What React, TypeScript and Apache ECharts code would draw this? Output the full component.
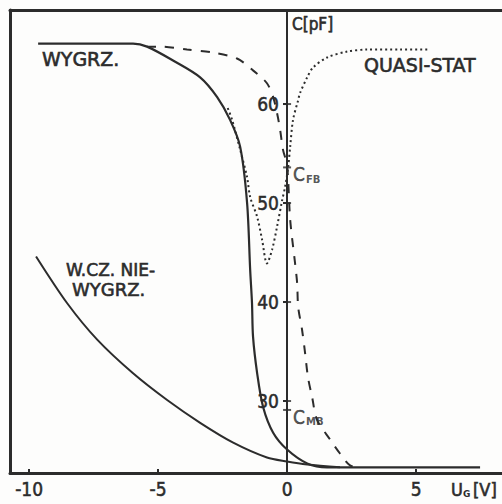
import React, { useEffect, useRef } from "react";
import * as echarts from "echarts";

// x: gate voltage U_G [V], y: capacitance C [pF]
const annealedHfV = [-9.65, -5.97, -5.43, -4.42, -3.37, -2.71, -2.21, -1.82, -1.55, -1.43, -1.36, -1.32, -1.16, -0.93, -0.54, 0, 0.78, 1.55, 7.48];
const annealedHfC = [66.1, 66.1, 65.8, 64.4, 62.7, 60.7, 58.4, 55.7, 50.0, 43.2, 39.9, 36.5, 32.8, 29.4, 26.8, 25.1, 23.7, 23.3, 23.3];

const dashedV = [-5.43, -4.92, -3.88, -2.87, -1.94, -1.32, -0.78, -0.54, -0.39, -0.27, -0.16, 0.0, 0.12, 0.31, 0.39, 0.43, 0.58, 0.7, 0.81, 0.97, 1.16, 1.67, 2.05, 2.44, 2.83];
const dashedC = [65.8, 65.8, 65.5, 65.2, 64.6, 63.4, 62.1, 60.7, 59.1, 57.4, 55.4, 53.8, 48.3, 43.9, 41.9, 39.5, 37.2, 34.8, 32.4, 30.4, 28.1, 26.1, 24.7, 23.5, 23.3];

const quasiV = [-2.3, -2.13, -1.82, -1.55, -1.43, -1.16, -0.97, -0.78, -0.58, -0.39, -0.19, -0.08, 0.04, 0.12, 0.23, 0.43, 0.5, 0.78, 1.01, 1.55, 2.33, 3.1, 4.38, 5.54];
const quasiC = [59.6, 58.4, 55.4, 52.6, 50.6, 48.6, 46.3, 43.9, 45.3, 47.6, 50.3, 51.6, 53.6, 55.7, 58.4, 60.4, 61.1, 62.7, 63.7, 64.7, 65.3, 65.5, 65.5, 65.5];

const unannealedV = [-9.73, -8.53, -7.36, -5.97, -4.65, -3.37, -2.09, -0.78, 0, 0.78, 2.05];
const unannealedC = [44.6, 39.9, 36.2, 32.8, 30.1, 27.8, 25.8, 24.3, 23.9, 23.6, 23.3];

const xTickValues = [-10, -5, 0, 5];
const yTickValues = [30, 40, 50, 60];
const markNames = ["FB", "MB"];
const markValues = [53.6, 29.1];

const INK = "#2c2c2c";
const FONT = "'DejaVu Sans', sans-serif";
const NUMFONT = "'DejaVu Sans Condensed', 'DejaVu Sans', sans-serif";

const zip = (xs: number[], ys: number[]) => xs.map((x, i) => [x, ys[i]]);

export default function App() {
  const ref = useRef<HTMLDivElement>(null);
  useEffect(() => {
    if (!ref.current) return;
    const chart = echarts.init(ref.current, null, { renderer: "svg" });
    const text = (t: string, x: number, y: number, size = 19, font = FONT) => ({
      type: "text",
      x,
      y,
      style: {
        text: t,
        fill: INK,
        stroke: INK,
        lineWidth: 0.6,
        font: `${size}px ${font}`,
        textAlign: "left",
        textVerticalAlign: "middle",
      },
    });
    chart.setOption({
      animation: false,
      backgroundColor: "#fdfdfc",
      grid: { left: 10, right: 0, top: 10, bottom: 31, outerBoundsMode: "none" },
      xAxis: [
        {
          type: "value",
          min: -10.74,
          max: 8.33,
          position: "bottom",
          splitLine: { show: false },
          axisLine: { onZero: false, lineStyle: { color: INK, width: 3 } },
          axisTick: { show: true, inside: true, length: 4, customValues: xTickValues, lineStyle: { color: INK, width: 2 } },
          axisLabel: { customValues: xTickValues, color: INK, fontSize: 19, fontFamily: NUMFONT, margin: 6, textBorderColor: INK, textBorderWidth: 0.5 },
        },
        {
          type: "value",
          min: -10.74,
          max: 8.33,
          position: "top",
          splitLine: { show: false },
          axisLine: { show: true, onZero: false, lineStyle: { color: INK, width: 3 } },
          axisTick: { show: false },
          axisLabel: { show: false },
        },
      ],
      yAxis: [
        {
          type: "value",
          min: 22.73,
          max: 69.5,
          position: "left",
          offset: -277,
          splitLine: { show: false },
          axisLine: { show: true, onZero: false, lineStyle: { color: INK, width: 2 } },
          axisTick: { show: true, length: 4, customValues: yTickValues, lineStyle: { color: INK, width: 2 } },
          axisLabel: { customValues: yTickValues, color: INK, fontSize: 19, fontFamily: NUMFONT, margin: 8, textBorderColor: INK, textBorderWidth: 0.5 },
        },
        {
          type: "value",
          min: 22.73,
          max: 69.5,
          position: "left",
          splitLine: { show: false },
          axisLine: { show: true, onZero: false, lineStyle: { color: INK, width: 3 } },
          axisTick: { show: false },
          axisLabel: { show: false },
        },
      ],
      series: [
        {
          type: "line",
          name: "WYGRZ.",
          data: zip(annealedHfV, annealedHfC),
          symbol: "none",
          smooth: 0.3,
          lineStyle: { color: INK, width: 2.2 },
        },
        {
          type: "line",
          name: "dashed",
          data: zip(dashedV, dashedC),
          symbol: "none",
          smooth: 0.3,
          lineStyle: { color: INK, width: 2, type: [9, 9] },
        },
        {
          type: "line",
          name: "QUASI-STAT",
          data: zip(quasiV, quasiC),
          symbol: "none",
          smooth: 0.3,
          lineStyle: { color: INK, width: 2, type: [2, 3] },
        },
        {
          type: "line",
          name: "W.CZ. NIE-WYGRZ.",
          data: zip(unannealedV, unannealedC),
          symbol: "none",
          smooth: 0.3,
          lineStyle: { color: INK, width: 2 },
        },
        {
          type: "scatter",
          name: "axis crosses",
          data: yTickValues.map((c) => [0, c]),
          symbol: "rect",
          symbolSize: [8, 2],
          itemStyle: { color: INK },
          silent: true,
        },
        {
          type: "scatter",
          name: "marks",
          data: markValues.map((c, i) => ({ value: [0, c], name: markNames[i] })),
          symbol: "rect",
          symbolSize: [8, 2],
          itemStyle: { color: INK },
          label: {
            show: true,
            position: "right",
            distance: 2,
            offset: [0, 7],
            formatter: (p: any) => `{c|C}{s|${p.name}}`,
            rich: {
              c: { fontSize: 19, color: INK, fontFamily: NUMFONT, textBorderColor: INK, textBorderWidth: 0.5 },
              s: { fontSize: 10, color: INK, fontFamily: FONT, fontWeight: "bold", padding: [10, 0, 0, 1] },
            },
          },
        },
      ],
      graphic: [
        text("C[pF]", 292, 24, 17, NUMFONT),
        text("WYGRZ.", 42, 59, 19),
        text("QUASI-STAT", 364, 65, 19),
        text("W.CZ. NIE-", 66, 270, 17),
        text("WYGRZ.", 72, 289, 18),
        text("U", 451, 489, 18, NUMFONT),
        { type: "text", x: 463, y: 494, style: { text: "G", fill: INK, font: `bold 9px ${FONT}`, textVerticalAlign: "middle" } },
        text("[V]", 473, 489, 18, NUMFONT),
      ],
    });
    return () => chart.dispose();
  }, []);
  return (
    <div
      ref={ref}
      style={{ position: "fixed", left: 0, top: 0, width: 502, height: 504 }}
    />
  );
}
